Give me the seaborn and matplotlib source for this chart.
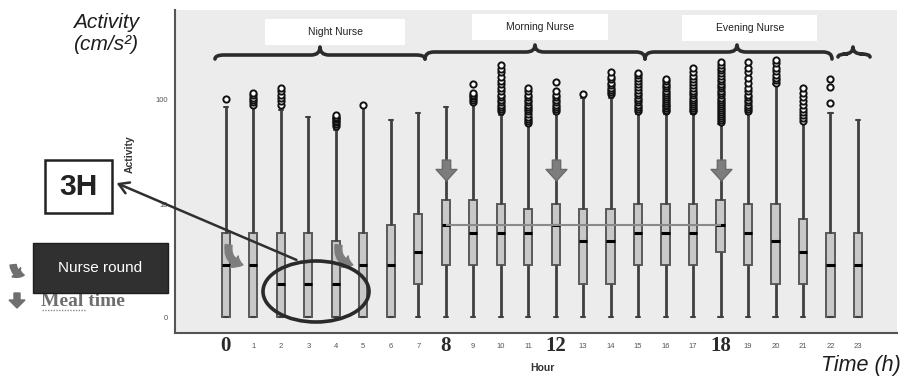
import numpy as np
import pandas as pd
import seaborn as sns
import matplotlib
matplotlib.use("Agg")
import matplotlib.pyplot as plt
from matplotlib.patches import Rectangle, Ellipse, FancyArrowPatch, PathPatch
from matplotlib.path import Path
from matplotlib.transforms import Affine2D

# ---------------- data (activity, cm/s^2) ----------------
hours = list(range(24))
q1 = [0, 0, 0, 0, 0, 0, 0, 1, 2, 2, 2, 2, 2, 1, 1, 2, 2, 2, 3, 2, 1, 1, 0, 0]
med = [2, 2, 1, 1, 1, 2, 2, 3, 6, 5, 5, 5, 6, 4, 4, 5, 5, 5, 6, 5, 4, 3, 2, 2]
q3 = [5, 5, 5, 5, 4, 5, 6, 8, 11, 11, 10, 9, 10, 9, 9, 10, 10, 10, 11, 10, 10, 7, 5, 5]
whisker_low = [0] * 24
whisker_high = [85, 85, 80, 70, 52, 85, 65, 75, 85, 93, 72, 58, 74, 105, 105, 74, 74, 74, 60, 74, 140, 62, 75, 65]
outliers = [
    [103],
    [90, 95, 100, 105, 110, 116],
    [90, 98, 105, 112, 120, 129],
    [],
    [57, 60, 62, 64, 66, 68, 70, 72],
    [90],
    [],
    [],
    [],
    [96, 100, 104, 108, 112, 116, 141],
    [78, 82, 86, 90, 95, 100, 106, 112, 120, 130, 140, 150, 165, 180, 195, 211],
    [61, 64, 67, 70, 74, 78, 82, 86, 90, 95, 100, 106, 112, 120, 129],
    [78, 82, 86, 90, 95, 100, 106, 112, 122, 148],
    [113],
    [113, 118, 124, 130, 137, 145, 155, 165, 183],
    [78, 82, 86, 90, 95, 100, 105, 111, 117, 124, 132, 140, 150, 160, 170, 179],
    [78, 81, 84, 87, 90, 94, 98, 102, 106, 111, 116, 122, 128, 135, 142, 150, 157],
    [78, 81, 84, 88, 92, 96, 100, 105, 110, 116, 122, 129, 137, 146, 156, 167, 180, 199],
    [62, 65, 68, 71, 74, 77, 80, 84, 88, 92, 96, 100, 105, 110, 116, 122, 128, 135,
     142, 150, 158, 167, 177, 188, 200, 213, 226],
    [78, 82, 86, 90, 95, 100, 106, 112, 120, 130, 145, 160, 180, 200, 226],
    [145, 152, 160, 170, 185, 200, 220, 236],
    [64, 68, 72, 77, 83, 90, 98, 107, 117, 129],
    [94, 132, 157],
    [],
]
ytick_values = [0, 1, 10, 100]
ytick_labels = ["0", "1", "10", "100"]
highlight_hours = [0, 8, 12, 18]
meal_hours = [8, 12, 18]
nurse_round_hours = [0, 4]
median_line_value = 6
median_line_span = [8, 18]
shifts = ["Night Nurse", "Morning Nurse", "Evening Nurse"]


def tr(v):
    return np.log10(1.0 + np.asarray(v, dtype=float))


# build a sample per hour whose quartiles / whiskers / fliers equal the read values
rows = []
for h in hours:
    outs = outliers[h]
    k = len(outs) + 1
    vals = ([whisker_low[h]] + [q1[h]] * k + [med[h]] * k + [q3[h]] * k
            + [whisker_high[h]] * (k - len(outs)) + outs)
    for v in vals:
        rows.append({"hour": h, "activity": v})
df = pd.DataFrame(rows)
df["logact"] = tr(df["activity"])

# ---------------- figure ----------------
W, H = 908, 381
sns.set_style("white")
plt.rcParams["font.family"] = ["Liberation Sans", "DejaVu Sans"]
fig = plt.figure(figsize=(W / 100, H / 100), dpi=100)
P = Affine2D().scale(1 / W, -1 / H).translate(0, 1) + fig.transFigure  # reference-pixel coords

ax = fig.add_axes([175 / W, 1 - 333 / H, (897 - 175) / W, (333 - 10) / H])
ax.set_facecolor("#ececec")

sns.boxplot(
    data=df, x="hour", y="logact", ax=ax, order=hours,
    color="#c8c8c8", saturation=1, width=0.3, whis=1.5,
    linecolor="#5a5a5a", linewidth=1.4, fliersize=4.5,
    flierprops=dict(marker="o", markerfacecolor="white", markeredgecolor="#111111",
                    markeredgewidth=1.4),
    medianprops=dict(color="black", linewidth=2.2),
    whiskerprops=dict(color="#404040", linewidth=2.0),
    capprops=dict(color="#404040", linewidth=1.5),
)

ax.set_xlim(-1.85, 23 + 1.42)
ax.set_ylim(-16 / 108.3, 307 / 108.3)
ax.set_yticks(tr(ytick_values))
ax.set_yticklabels(ytick_labels)
ax.set_xticks(range(len(hours)))
# the highlighted hours get large labels instead of the small tick labels
ax.set_xticklabels(["" if h in highlight_hours else str(h) for h in hours])
ax.tick_params(axis="both", labelsize=5.5, labelcolor="#555555", color="#555555",
               length=3, width=0.8, direction="out")
ax.tick_params(axis="x", pad=4)
ax.tick_params(axis="y", pad=2)
for s in ["top", "right"]:
    ax.spines[s].set_visible(False)
for s in ["left", "bottom"]:
    ax.spines[s].set_color("#555555")
    ax.spines[s].set_linewidth(1.5)
ax.set_xlabel("Hour", fontsize=7.5, fontweight="bold", color="#333333")
ax.xaxis.set_label_coords((542 - 175) / (897 - 175), -(363 - 333) / (333 - 10))
ax.set_ylabel("Activity", fontsize=7.5, fontweight="bold", color="#333333")
ax.yaxis.set_label_coords(-(175 - 135) / (897 - 175), (333 - 154) / (333 - 10))

# horizontal reference line across the meal hours
ax.hlines(tr(median_line_value), median_line_span[0], median_line_span[1],
          color="#8a8a8a", lw=1.5, zorder=5)

# meal-time arrows
arrow_path = Path([(-0.2, 0.5), (0.2, 0.5), (0.2, 0.05), (0.5, 0.05), (0.0, -0.5),
                   (-0.5, 0.05), (-0.2, 0.05), (-0.2, 0.5)], closed=True)
for h in meal_hours:
    ax.plot([h], [1.357], marker=arrow_path, markersize=15, color="#7d7d7d",
            markeredgecolor="#6a6a6a", zorder=6, linestyle="none")

# nurse-round arrows
for h in nurse_round_hours:
    a = FancyArrowPatch((h + 0.12, tr(3.9)), (h + 0.72, tr(2.0)),
                        connectionstyle="arc3,rad=0.55",
                        arrowstyle="simple,head_width=0.9,head_length=0.6,tail_width=0.45",
                        mutation_scale=11, color="#7d7d7d", zorder=6)
    ax.add_patch(a)

# big hour labels
for h in highlight_hours:
    ax.annotate(str(h), xy=(h, 0), xycoords=("data", "axes fraction"),
                xytext=(0, -9.5), textcoords="offset points", ha="center", va="center",
                fontsize=15, fontweight="bold", family=["Liberation Serif", "DejaVu Serif"],
                color="#2a2a2a", annotation_clip=False)


# ---------------- braces & shift labels ----------------
def brace(x1, x2, xp, y, yend, ypk):
    verts = [(x1, yend), (x1, y), (x1 + 9, y), (xp - 9, y), (xp, y), (xp, ypk),
             (xp, y), (xp + 9, y), (x2 - 9, y), (x2, y), (x2, yend)]
    codes = [Path.MOVETO, Path.CURVE3, Path.CURVE3, Path.LINETO, Path.CURVE3, Path.CURVE3,
             Path.CURVE3, Path.CURVE3, Path.LINETO, Path.CURVE3, Path.CURVE3]
    fig.add_artist(PathPatch(Path(verts, codes), transform=P, fill=False,
                             edgecolor="#2b2b2b", lw=2.6, capstyle="round", joinstyle="round"))


brace(215, 425, 320, 55, 59, 47)
brace(425, 645, 535, 52, 59, 45)
brace(645, 832, 737, 52, 59, 45)
brace(838, 870, 853, 54, 57, 47)

label_boxes = [(265, 19, 140, 26, 335, 32), (472, 14, 136, 26, 540, 27), (682, 15, 135, 26, 750, 28)]
for name, (bx, by, bw, bh, tx, ty) in zip(shifts, label_boxes):
    fig.add_artist(Rectangle((bx, by), bw, bh, transform=P, facecolor="white",
                             edgecolor="none"))
    fig.text(tx, ty, name, transform=P, ha="center", va="center", fontsize=7.5,
             color="#222222")

# ellipse around hours 2-4 and the 3H callout
fig.add_artist(Ellipse((316, 291.5), 106, 61, transform=P, fill=False,
                       edgecolor="#2a2a2a", lw=2.6, zorder=10))
fig.add_artist(FancyArrowPatch((299, 261), (114, 182), transform=P,
                               arrowstyle="->,head_length=0.5,head_width=0.3",
                               mutation_scale=14, color="#2f2f2f", lw=1.8, zorder=10))
fig.add_artist(Rectangle((45, 160), 67, 53, transform=P, facecolor="white",
                         edgecolor="#222222", lw=1.8, zorder=11))
fig.text(78.5, 187, "3H", transform=P, ha="center", va="center", fontsize=21.5,
         fontweight="bold", color="#222222", zorder=12)

# legend-like annotations
fig.add_artist(Rectangle((33, 243), 135, 50, transform=P, facecolor="#303030",
                         edgecolor="#1e1e1e", lw=1.0, zorder=11))
fig.text(100.5, 268, "Nurse round", transform=P, ha="center", va="center", fontsize=11,
         color="white", zorder=12)
fig.add_artist(FancyArrowPatch((13, 262), (27, 275), transform=P,
                               connectionstyle="arc3,rad=0.55",
                               arrowstyle="simple,head_width=0.9,head_length=0.6,tail_width=0.45",
                               mutation_scale=10, color="#6f6f6f", zorder=11))
fig.add_artist(PathPatch(Path([(14, 293), (20, 293), (20, 300), (25, 300), (17, 308),
                               (9, 300), (14, 300), (14, 293)], closed=True),
                         transform=P, facecolor="#6f6f6f", edgecolor="#6f6f6f", zorder=11))
fig.text(41, 301, "Meal time", transform=P, ha="left", va="center", fontsize=14,
         fontweight="bold", family=["Liberation Serif", "DejaVu Serif"], color="#6e6e6e")
fig.add_artist(plt.Line2D([42, 85], [310, 310], transform=P, color="#8a8a8a", lw=1.0,
                          linestyle=(0, (1, 1))))

# axis titles in the corners
fig.text(106, 22, "Activity", transform=P, ha="center", va="center", fontsize=15,
         style="italic", color="#1e1e1e")
fig.text(106, 45, "(cm/s\u00b2)", transform=P, ha="center", va="center", fontsize=15,
         style="italic", color="#1e1e1e")
fig.text(861, 366, "Time (h)", transform=P, ha="center", va="center", fontsize=15.5,
         style="italic", color="#1e1e1e")

fig.savefig("out.png", dpi=100)
